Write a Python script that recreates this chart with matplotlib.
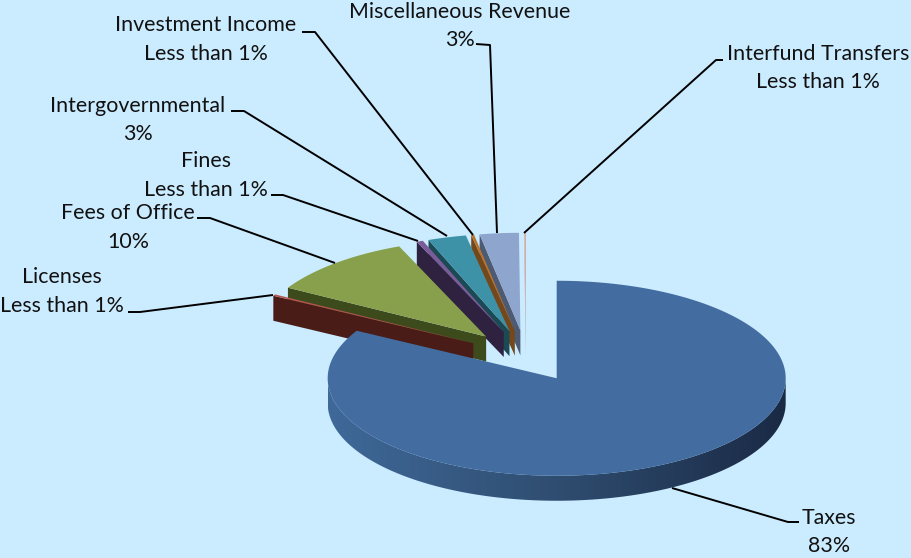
import numpy as np
from matplotlib import pyplot as plt
from matplotlib.colors import LinearSegmentedColormap
from matplotlib.patches import Polygon

# ---------- data ----------
categories = ['Taxes', 'Licenses', 'Fees of Office', 'Fines', 'Intergovernmental',
              'Investment Income', 'Miscellaneous Revenue', 'Interfund Transfers']
shares = [83.1, 0.25, 10.45, 0.45, 2.7, 0.2, 2.75, 0.1]
share_labels = ['83%', 'Less than 1%', '10%', 'Less than 1%', '3%',
                'Less than 1%', '3%', 'Less than 1%']

# ---------- styles ----------
top_colors = ['#436da0', '#b4564f', '#88a04c', '#7a5c98', '#3e92a8', '#b8742c', '#8ea5cd', '#dc9c92']
wall_colors = ['#27405f', '#4a1c18', '#3c4a1c', '#2e2240', '#1b4a55', '#74481a', '#4c5a74', '#a9a5ad']
background = '#cbebff'
rim_cmap = LinearSegmentedColormap.from_list('rim', ['#3f6999', '#2f4d70', '#1a2a45'])

# pie geometry in pixels
cx, cy = 526.0, 356.0
rx, ry = 229.0, 97.5
depth = 25.0
explode = 60.6

# label centres, same order as categories
label_x = [829, 62, 128, 206, 138, 206, 460, 818]
label_y = [518, 277, 213, 161, 106, 25, 12, 54]
line_gap = 28.5

leaders = [
    [(672, 488), (788, 522), (799, 522)],
    [(273, 295), (140, 312), (128, 312)],
    [(335, 263), (210, 218), (197, 218)],
    [(418, 241), (283, 195), (271, 195)],
    [(447, 236), (244, 111), (231, 111)],
    [(473, 235), (315, 32), (302, 32)],
    [(497, 233), (490, 45), (476, 44)],
    [(524, 233), (716, 60), (723, 60)],
]


def point(angle, ox, oy):
    # angle in degrees, clockwise from 12 o'clock
    a = np.radians(angle)
    return ox + rx * np.sin(a), oy - ry * np.cos(a)


def draw_slice(i, start, stop):
    mid = np.radians((start + stop) / 2)
    ox = cx + explode * np.sin(mid)
    oy = cy - explode * np.cos(mid) * ry / rx
    angles = np.linspace(start, stop, 300)
    xs, ys = point(angles, ox, oy)

    # wall on the starting edge, only faces us on the left hand slices
    if 180 < start < 360:
        ax.add_patch(Polygon([(ox, oy), (xs[0], ys[0]), (xs[0], ys[0] + depth), (ox, oy + depth)],
                             closed=True, fc=wall_colors[i], ec='none', zorder=z_order[i]))

    # outer rim, lower half only, shaded left to right
    front = (angles > 90) & (angles < 270)
    if front.any():
        fx, fy = xs[front], ys[front]
        rim = list(zip(fx, fy)) + list(zip(fx[::-1], fy[::-1] + depth))
        clip = Polygon(rim, closed=True, fc='none', ec='none', transform=ax.transData)
        ax.add_patch(clip)
        shade = ax.imshow(np.linspace(0, 1, 256).reshape(1, -1), cmap=rim_cmap, aspect='auto',
                          extent=(fx.min(), fx.max(), fy.max() + depth, fy.min()),
                          zorder=z_order[i])
        shade.set_clip_path(clip)

    top = [(ox, oy)] + list(zip(xs, ys))
    ax.add_patch(Polygon(top, closed=True, fc=top_colors[i], ec='none', zorder=z_order[i] + 0.5))


plt.rcParams['font.family'] = ['Lato', 'DejaVu Sans']
fig = plt.figure(figsize=(9.11, 5.58), dpi=100, facecolor=background)
ax = fig.add_axes([0, 0, 1, 1])

# draw order: back slices first, taxes last
z_order = [20, 10, 9, 8, 7, 6, 5, 4]

edges = np.cumsum([0] + shares) / np.sum(shares) * 360
for i in range(len(shares)):
    draw_slice(i, edges[i], edges[i + 1])

for pts in leaders:
    ax.plot(*zip(*pts), color='black', lw=1.4, zorder=30, solid_capstyle='butt')

for i, name in enumerate(categories):
    ax.text(label_x[i], label_y[i], name, ha='center', va='center', fontsize=15.4, color='#111111', zorder=40)
    ax.text(label_x[i], label_y[i] + line_gap, share_labels[i], ha='center', va='center',
            fontsize=15.4, color='#111111', zorder=40)

ax.set_xlim(0, 911)
ax.set_ylim(558, 0)
ax.axis('off')

fig.savefig('out.png', dpi=100, facecolor=background)
